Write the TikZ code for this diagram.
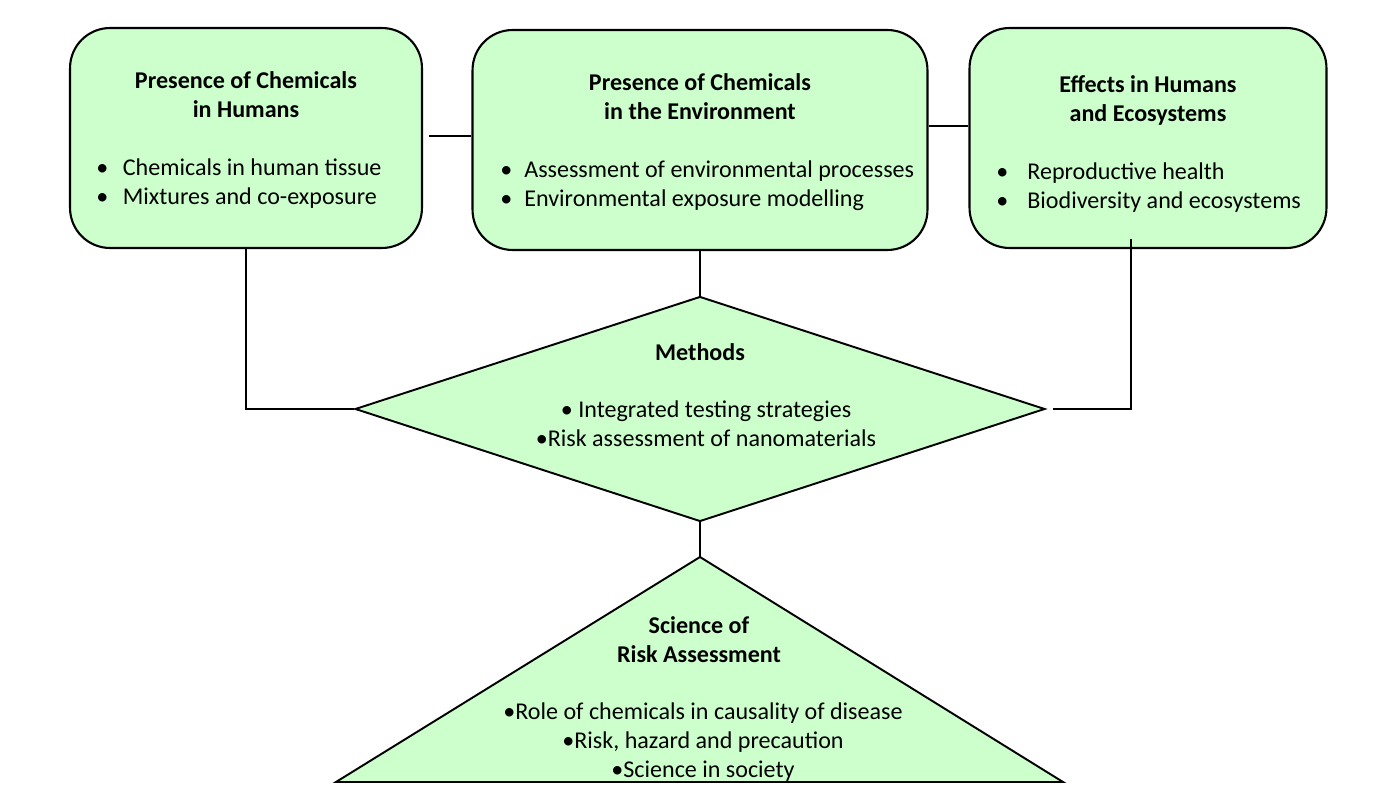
\documentclass[tikz,border=0pt]{standalone}
\usepackage{fontspec}
\setmainfont{Carlito}
\usepackage{xcolor}
\usetikzlibrary{positioning, shapes.geometric, calc}
\definecolor{palegreen}{HTML}{CCFFCC}
\newcommand{\blt}[1][0.53cm]{\makebox[#1][l]{\textbullet}}

\tikzset{
  topbox/.style={draw=black, fill=palegreen, line width=1.2pt, rounded corners=0.8cm,
                 minimum height=4.4cm, inner sep=0pt},
  headtext/.style={font=\fontsize{13.7}{16.5}\selectfont\bfseries, align=center, inner sep=0pt},
  itemtext/.style={font=\fontsize{13.7}{16.5}\selectfont, align=left, anchor=west, inner sep=0pt},
  midtext/.style={font=\fontsize{13.7}{16.5}\selectfont, align=center, inner sep=0pt},
  link/.style={draw=black, line width=1.1pt}
}

\begin{document}
\begin{tikzpicture}[x=0.02cm, y=-0.02cm]
  \useasboundingbox (0,0) rectangle (1397,807);

  % top row
  \node[topbox, minimum width=7.04cm] (hum) at (246,138) {};
  \node[topbox, minimum width=9.1cm]  (env) at (700,140) {};
  \node[topbox, minimum width=7.14cm] (eff) at (1148,138) {};

  \node[headtext] (humhead) at (246,95) {Presence of Chemicals\\in Humans};
  \node[itemtext] (humlist) at (96,184) {\blt Chemicals in human tissue\\\blt Mixtures and co-exposure};

  \node[headtext] (envhead) at (700,97) {Presence of Chemicals\\in the Environment};
  \node[itemtext] (envlist) at (500,186) {\blt[0.48cm]Assessment of environmental processes\\\blt[0.48cm]Environmental exposure modelling};

  \node[headtext] (effhead) at (1148,100) {Effects in Humans\\and Ecosystems};
  \node[itemtext] (efflist) at (996,188) {\blt[0.62cm]Reproductive health\\\blt[0.62cm]Biodiversity and ecosystems};

  % methods
  \node[diamond, draw=black, fill=palegreen, line width=1.1pt, inner sep=0pt,
        minimum width=13.8cm, minimum height=4.5cm] (meth) at (700,409) {};
  \node[headtext] (methhead) at (700,352) {Methods};
  \node[midtext] (methlist) at (706,424) {\textbullet\ Integrated testing strategies\\\textbullet Risk assessment of nanomaterials};

  % science of risk assessment
  \coordinate (apex) at (700,557);
  \coordinate (baseL) at (336,782);
  \coordinate (baseR) at (1063,782);
  \draw[fill=palegreen, line width=1.1pt] (apex) -- (baseR) -- (baseL) -- cycle;
  \node[headtext] (scihead) at (699,640) {Science of\\Risk Assessment};
  \node[midtext] (scilist) at (703,742) {\textbullet Role of chemicals in causality of disease\\\textbullet Risk, hazard and precaution\\\textbullet Science in society};

  % links
  \draw[link] ([xshift=0.12cm, yshift=0.04cm]hum.east) -- ([yshift=0.04cm]hum.east -| env.west);
  \draw[link] ([yshift=0.28cm]env.east) -- ([yshift=0.28cm]env.east -| eff.west);
  \draw[link] (env.south) -- (meth.north);
  \draw[link] (hum.south) |- (meth.west);
  \draw[link] ([xshift=-0.34cm, yshift=0.2cm]eff.south) |- ([xshift=0.14cm]meth.east);
  \draw[link] (meth.south) -- (apex);
\end{tikzpicture}
\end{document}
